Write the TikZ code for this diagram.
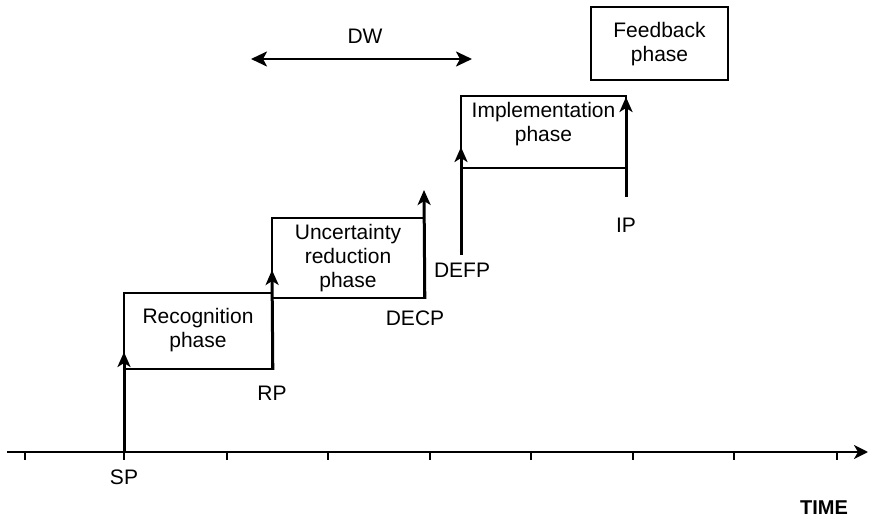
\documentclass[tikz,border=0pt]{standalone}
\usepackage{fontspec}
\setmainfont{Liberation Sans}
\usetikzlibrary{arrows.meta,calc}
\begin{document}
\begin{tikzpicture}[x=1pt,y=-1pt,
  box/.style={draw,line width=1.6pt,inner sep=0pt,align=center},
  txt/.style={inner sep=0pt,align=center,font=\fontsize{21}{24}\selectfont},
  arr/.style={line width=3pt,-{Stealth[length=15pt,width=13pt,inset=4pt]}},
  axisline/.style={line width=2.8pt,-{Stealth[length=14pt,width=14pt,inset=4pt]}},
  tick/.style={line width=2pt}]
\useasboundingbox (0,0) rectangle (870,518);

% time axis and its ticks
\coordinate (a0) at (7,452);
\coordinate (a1) at (868,452);
\draw[axisline] (a0) -- (a1);
\foreach \k/\x in {t0/25,sp/124,t2/227,t3/328,t4/430,t5/531,t6/633,t7/734,t8/837}{
  \coordinate (\k) at (\x,452);
  \draw[tick] (\k) -- ++(0,8);
}

% phase boxes
\node[box,minimum width=148pt,minimum height=76pt] (rec) at (198,331) {};
\node[txt] (rect) at (198,330) {Recognition\\phase};
\node[box,minimum width=152pt,minimum height=80pt] (unc) at (348,258) {};
\node[txt] (unct) at (348,258) {Uncertainty\\reduction\\phase};
\node[box,minimum width=165pt,minimum height=72pt] (imp) at (543.5,132) {};
\node[txt] (impt) at (543.5,124) {Implementation\\phase};
\node[box,minimum width=137pt,minimum height=73pt] (fb) at (659.5,43.5) {};
\node[txt] (fbt) at (659.5,44) {Feedback\\phase};

% decision points
\coordinate (spT) at (124,352);
\coordinate (rpT) at (272,270);
\coordinate (decpT) at (424,190);
\coordinate (defpB) at (461,255);
\coordinate (defpT) at (461,147);
\coordinate (ipB) at (626,197);
\coordinate (ipT) at (626,97);
\draw[arr] (sp) -- (spT);
\draw[arr] (rec.south east) -- (rpT);
\draw[arr] (unc.south east) -- (decpT);
\draw[arr] (defpB) -- (defpT);
\draw[arr] (ipB) -- (ipT);

\node[txt] (spl) at (124,477) {SP};
\node[txt] (rpl) at (272,393) {RP};
\node[txt] (decpl) at (415,318) {DECP};
\node[txt] (defpl) at (462,270) {DEFP};
\node[txt] (ipl) at (626,225) {IP};

% decision window
\coordinate (dwL) at (251,59);
\coordinate (dwR) at (472,59);
\draw[line width=2.6pt,{Stealth[length=16pt,width=15pt,inset=4pt]}-{Stealth[length=16pt,width=15pt,inset=4pt]}] (dwL) -- (dwR);
\node[txt] (dwl) at (365,36) {DW};

\node[txt,font=\fontsize{20}{24}\selectfont\bfseries] (time) at (824,508) {TIME};
\end{tikzpicture}
\end{document}
